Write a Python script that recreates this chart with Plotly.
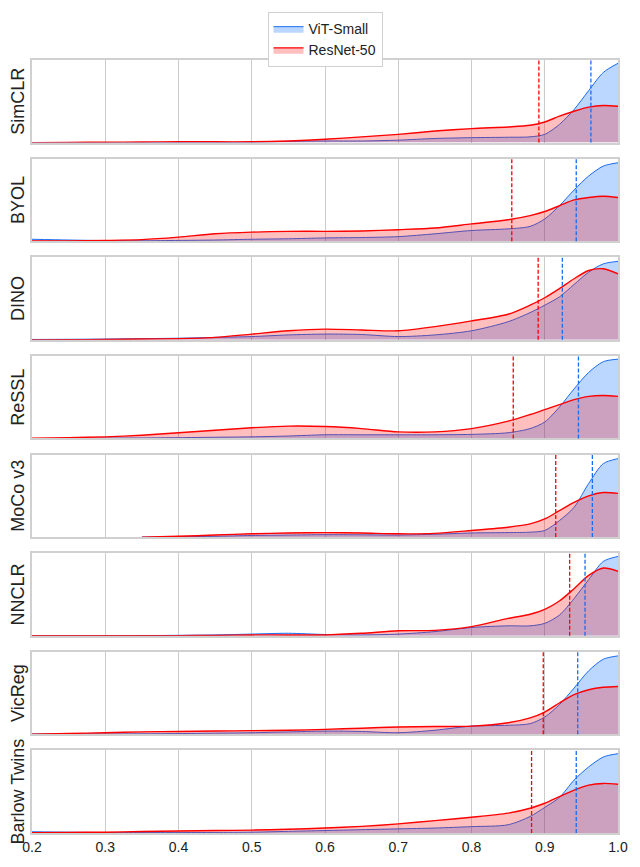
import plotly.graph_objects as go
from plotly.subplots import make_subplots

methods = ["SimCLR", "BYOL", "DINO", "ReSSL", "MoCo v3", "NNCLR", "VicReg", "Barlow Twins"]
x_grid = [0.2, 0.25, 0.3, 0.35, 0.4, 0.45, 0.5, 0.55, 0.6, 0.65, 0.7, 0.75, 0.8,
          0.85, 0.88, 0.9, 0.92, 0.94, 0.96, 0.98, 1.0]

simclr_vit = [0, 0, 0, 0, 0, 0, 0.005, 0.015, 0.02, 0.02, 0.03, 0.05, 0.06, 0.065, 0.07, 0.1, 0.22, 0.4, 0.63, 0.85, 0.96]
simclr_rn = [0, 0.003, 0.005, 0.007, 0.01, 0.01, 0.01, 0.02, 0.04, 0.07, 0.1, 0.14, 0.17, 0.19, 0.21, 0.25, 0.32, 0.38, 0.43, 0.45, 0.44]
byol_vit = [0.024, 0.015, 0.008, 0.006, 0.01, 0.015, 0.024, 0.03, 0.04, 0.045, 0.056, 0.09, 0.13, 0.15, 0.18, 0.27, 0.43, 0.62, 0.79, 0.91, 0.95]
byol_rn = [0.005, 0.005, 0.01, 0.02, 0.05, 0.09, 0.11, 0.12, 0.12, 0.125, 0.14, 0.16, 0.21, 0.26, 0.31, 0.36, 0.43, 0.5, 0.53, 0.545, 0.53]
dino_vit = [0.005, 0.007, 0.01, 0.015, 0.02, 0.03, 0.04, 0.06, 0.07, 0.065, 0.04, 0.06, 0.11, 0.22, 0.33, 0.42, 0.52, 0.67, 0.82, 0.92, 0.95]
dino_rn = [0, 0.002, 0.005, 0.01, 0.015, 0.03, 0.07, 0.11, 0.13, 0.12, 0.11, 0.16, 0.23, 0.31, 0.42, 0.51, 0.62, 0.74, 0.84, 0.86, 0.8]
ressl_vit = [0, 0, 0.005, 0.007, 0.01, 0.015, 0.02, 0.03, 0.045, 0.045, 0.045, 0.045, 0.05, 0.07, 0.12, 0.2, 0.38, 0.6, 0.8, 0.93, 0.96]
ressl_rn = [0.005, 0.01, 0.02, 0.04, 0.07, 0.1, 0.13, 0.15, 0.145, 0.12, 0.08, 0.08, 0.12, 0.21, 0.29, 0.35, 0.41, 0.47, 0.51, 0.52, 0.51]
moco_vit = [None, None, None, 0.0, 0.005, 0.01, 0.02, 0.025, 0.03, 0.028, 0.025, 0.035, 0.05, 0.055, 0.06, 0.08, 0.2, 0.36, 0.65, 0.89, 0.95]
moco_rn = [None, None, None, 0.0, 0.01, 0.025, 0.04, 0.05, 0.055, 0.05, 0.04, 0.045, 0.08, 0.12, 0.16, 0.22, 0.32, 0.42, 0.5, 0.54, 0.53]
nnclr_vit = [0, 0, 0, 0.002, 0.005, 0.01, 0.02, 0.03, 0.015, 0.01, 0.02, 0.05, 0.1, 0.12, 0.12, 0.15, 0.25, 0.45, 0.68, 0.9, 0.96]
nnclr_rn = [0, 0, 0, 0, 0, 0.005, 0.01, 0.01, 0.01, 0.03, 0.06, 0.065, 0.11, 0.21, 0.26, 0.32, 0.42, 0.57, 0.73, 0.82, 0.78]
vicreg_vit = [0.005, 0.005, 0.005, 0.007, 0.01, 0.015, 0.02, 0.03, 0.04, 0.035, 0.02, 0.05, 0.1, 0.11, 0.13, 0.21, 0.36, 0.56, 0.77, 0.91, 0.95]
vicreg_rn = [0.003, 0.01, 0.02, 0.03, 0.035, 0.04, 0.045, 0.05, 0.06, 0.075, 0.09, 0.095, 0.1, 0.14, 0.2, 0.27, 0.38, 0.48, 0.54, 0.57, 0.58]
barlow_vit = [0.015, 0.01, 0.005, 0.005, 0.005, 0.007, 0.01, 0.02, 0.03, 0.04, 0.05, 0.06, 0.077, 0.1, 0.2, 0.31, 0.43, 0.64, 0.8, 0.92, 0.96]
barlow_rn = [0.005, 0.008, 0.01, 0.018, 0.025, 0.03, 0.035, 0.045, 0.06, 0.08, 0.11, 0.15, 0.19, 0.24, 0.3, 0.36, 0.44, 0.52, 0.58, 0.6, 0.59]

vit_series = [simclr_vit, byol_vit, dino_vit, ressl_vit, moco_vit, nnclr_vit, vicreg_vit, barlow_vit]
rn_series = [simclr_rn, byol_rn, dino_rn, ressl_rn, moco_rn, nnclr_rn, vicreg_rn, barlow_rn]

vit_means = [0.963, 0.943, 0.924, 0.946, 0.965, 0.955, 0.945, 0.943]
rn_means = [0.892, 0.855, 0.891, 0.857, 0.915, 0.934, 0.898, 0.882]

BLUE = "#1a6cf0"
RED = "#ff0000"

n = len(methods)
fig = make_subplots(rows=n, cols=1, shared_xaxes=True, vertical_spacing=0.0207)

for i in range(n):
    r = i + 1
    fig.add_trace(go.Scatter(
        x=x_grid, y=vit_series[i], mode="lines", name="ViT-Small",
        line=dict(color=BLUE, width=1, shape="spline", smoothing=0.8),
        fill="tozeroy", fillcolor="rgba(0,100,255,0.265)",
        legendgroup="vit", showlegend=(i == 0)), row=r, col=1)
    fig.add_trace(go.Scatter(
        x=x_grid, y=rn_series[i], mode="lines", name="ResNet-50",
        line=dict(color=RED, width=1.4, shape="spline", smoothing=0.8),
        fill="tozeroy", fillcolor="rgba(255,0,0,0.25)",
        legendgroup="rn", showlegend=(i == 0)), row=r, col=1)
    xref = "x" if r == 1 else f"x{r}"
    yref = "y domain" if r == 1 else f"y{r} domain"
    fig.add_shape(type="line", xref=xref, yref=yref, x0=rn_means[i], x1=rn_means[i],
                  y0=0, y1=1, line=dict(color=RED, width=1.3, dash="4px,2px"))
    fig.add_shape(type="line", xref=xref, yref=yref, x0=vit_means[i], x1=vit_means[i],
                  y0=0, y1=1, line=dict(color=BLUE, width=1.3, dash="4px,2px"))
    fig.update_yaxes(row=r, col=1, range=[0, 1.0], showticklabels=False, ticks="",
                     showgrid=False, zeroline=False, showline=True, mirror=True,
                     linecolor="#d0d0d0", linewidth=1.5,
                     title=dict(text=methods[i], standoff=1,
                                font=dict(size=18, color="#222222")))
    fig.update_xaxes(row=r, col=1, range=[0.2, 1.0], showgrid=True, gridcolor="#cccccc",
                     gridwidth=1, zeroline=False, showline=True, mirror=True,
                     linecolor="#d0d0d0", linewidth=1.5, ticks="",
                     tickvals=[0.2, 0.3, 0.4, 0.5, 0.6, 0.7, 0.8, 0.9, 1.0],
                     ticktext=["0.2", "0.3", "0.4", "0.5", "0.6", "0.7", "0.8", "0.9", "1.0"],
                     showticklabels=(r == n), tickfont=dict(size=14, color="#222222"))

fig.update_layout(
    width=640, height=867,
    margin=dict(l=32, r=13, t=50, b=31),
    paper_bgcolor="white", plot_bgcolor="white",
    font=dict(family="Liberation Sans, Arial, sans-serif", color="#222222"),
    legend=dict(x=0.5, xanchor="center", y=1.062, yanchor="top",
                bgcolor="white", bordercolor="#d0d0d0", borderwidth=1,
                font=dict(size=14), tracegroupgap=0),
)

fig.write_html("out.html")
